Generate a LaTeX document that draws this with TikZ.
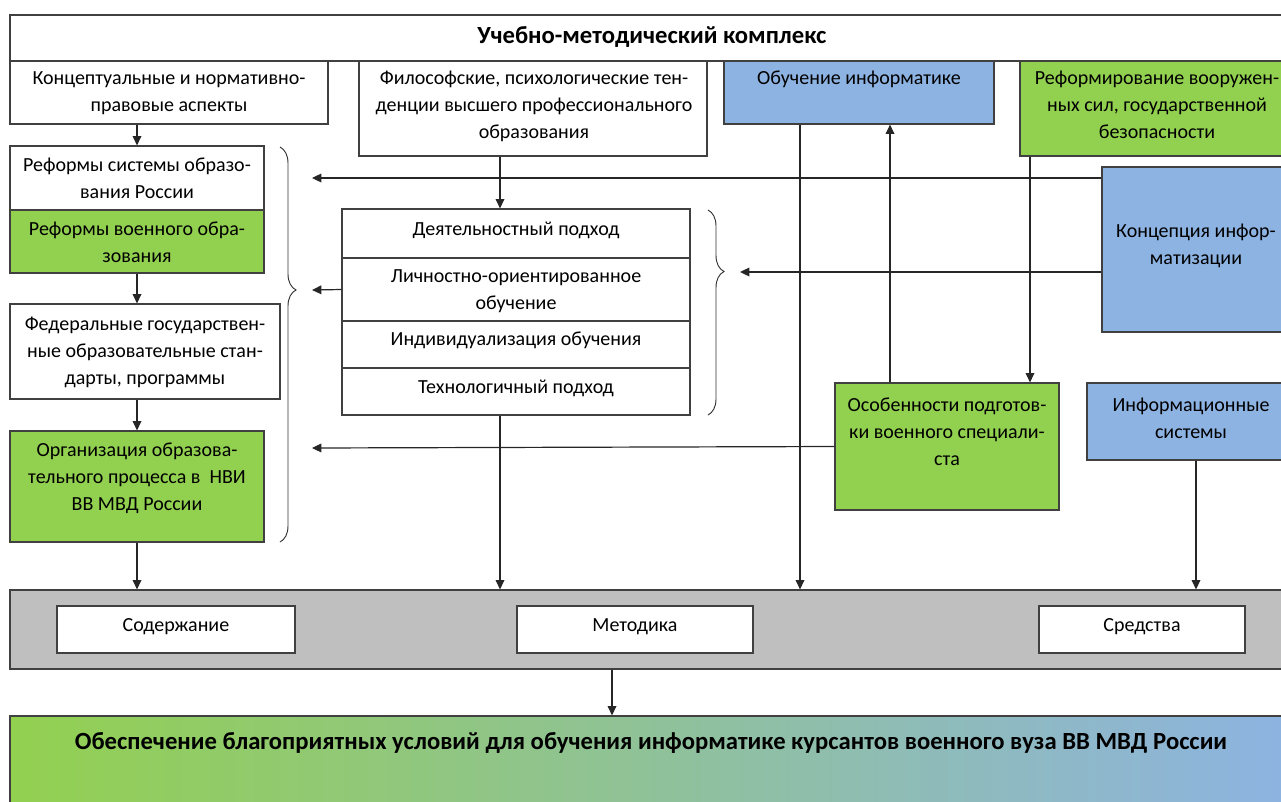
\documentclass[tikz,border=0pt]{standalone}
\usepackage{fontspec}
\setmainfont{Carlito}
\usetikzlibrary{arrows.meta,decorations.pathreplacing,fit,calc}
\definecolor{gr}{RGB}{146,208,80}
\definecolor{bl}{RGB}{141,179,226}
\definecolor{gy}{RGB}{191,191,191}
\definecolor{bd}{RGB}{64,64,64}
\begin{document}
\begin{tikzpicture}[x=0.75pt,y=-0.75pt,
  box/.style={draw=bd,line width=0.9pt,inner sep=0pt},
  txt/.style={anchor=base,align=center,inner sep=0pt,font=\fontsize{15pt}{20.25pt}\selectfont},
  ttl/.style={anchor=base,align=center,inner sep=0pt,font=\fontsize{18.5pt}{22pt}\selectfont\bfseries},
  arr/.style={draw=black!85,line width=0.9pt,-{Triangle[length=7pt,width=6.5pt]}},
  brc/.style={draw=black!80,line width=0.7pt,decorate}]
\useasboundingbox (0,0) rectangle (1281,801);
\clip (0,0) rectangle (1281,801);
% column coordinates
\coordinate (c500) at (500,0);
\coordinate (c800) at (800,0);
\coordinate (c890) at (890,0);
\coordinate (c1030) at (1030,0);
\coordinate (c1196) at (1196,0);
\coordinate (c612) at (612,0);
% top title
\node[box,fill=white,fit={(10,15) (1295,61)}] (top) {};
\node[ttl] (top-t) at (652,43) {Учебно-методический комплекс};
% row 1
\node[box,fill=white,fit={(10,61) (328,124)}] (kon) {};
\node[txt] (kon-t) at (169,111) {Концептуальные и нормативно-\\правовые аспекты};
\node[box,fill=white,fit={(359,61) (707,156)}] (fil) {};
\node[txt] (fil-t) at (534,138) {Философские, психологические тен-\\денции высшего профессионального\\образования};
\node[box,fill=bl,fit={(724,61) (994,124)}] (obu) {};
\node[txt] (obu-t) at (859,84) {Обучение информатике};
\node[box,fill=gr,fit={(1020,61) (1295,156)}] (ref) {};
\node[txt] (ref-t) at (1157,138) {Реформирование вооружен-\\ных сил, государственной\\безопасности};
% left column
\node[box,fill=white,fit={(10,146) (264,210)}] (rso) {};
\node[txt] (rso-t) at (137,198) {Реформы системы образо-\\вания России};
\node[box,fill=gr,fit={(10,210) (264,273)}] (rvo) {};
\node[txt] (rvo-t) at (137,262) {Реформы военного обра-\\зования};
\node[box,fill=white,fit={(10,304) (280,399)}] (fed) {};
\node[txt] (fed-t) at (145,384) {Федеральные государствен-\\ные образовательные стан-\\дарты, программы};
\node[box,fill=gr,fit={(10,431) (264,542)}] (org) {};
\node[txt] (org-t) at (137,510) {Организация образова-\\тельного процесса в\ \ НВИ\\ВВ МВД России};
% middle stack
\node[box,fill=white,fit={(342,209) (690,258)}] (dey) {};
\node[txt] (dey-t) at (516,235) {Деятельностный подход};
\node[box,fill=white,fit={(342,258) (690,321)}] (lic) {};
\node[txt] (lic-t) at (516,309) {Личностно-ориентированное\\обучение};
\node[box,fill=white,fit={(342,321) (690,368)}] (ind) {};
\node[txt] (ind-t) at (516,345) {Индивидуализация обучения};
\node[box,fill=white,fit={(342,368) (690,415)}] (tec) {};
\node[txt] (tec-t) at (516,393) {Технологичный подход};
% right side
\node[box,fill=bl,fit={(1102,167) (1295,332)}] (kin) {};
\node[txt] (kin-t) at (1196,264) {Концепция инфор-\\матизации};
\node[box,fill=gr,fit={(835,383) (1059,510)}] (osb) {};
\node[txt] (osb-t) at (947,465) {Особенности подготов-\\ки военного специали-\\ста};
\node[box,fill=bl,fit={(1087,383) (1300,460)}] (ins) {};
\node[txt] (ins-t) at (1191,438) {Информационные\\системы};
% gray band
\node[box,fill=gy,fit={(10,590) (1295,669)}] (gray) {};
\node[box,fill=white,fit={(57,606) (295,653)}] (sod) {};
\node[txt] (sod-t) at (176,631) {Содержание};
\node[box,fill=white,fit={(517,606) (753,653)}] (met) {};
\node[txt] (met-t) at (635,631) {Методика};
\node[box,fill=white,fit={(1039,606) (1245,653)}] (sre) {};
\node[txt] (sre-t) at (1142,631) {Средства};
% bottom
\node[box,left color=gr,right color=bl,fit={(10,716) (1295,810)}] (fin) {};
\node[ttl] (fin-t) at (651,749) {Обеспечение благоприятных условий для обучения информатике курсантов военного вуза ВВ МВД России};
% braces
\coordinate (b1a) at (280,147);
\coordinate (b1b) at (280,542);
\draw[brc,decoration={brace,amplitude=12pt,aspect=0.362}] (b1a) -- (b1b);
\coordinate (b2a) at (708,210);
\coordinate (b2b) at (708,415);
\draw[brc,decoration={brace,amplitude=12pt,aspect=0.30}] (b2a) -- (b2b);
\coordinate (t178) at (312,178);
\coordinate (t290) at (312,290);
\coordinate (t448) at (312,448);
\coordinate (t272) at (740,272);
% connectors
\draw[arr] (rso.north |- kon.south) -- (rso.north);
\draw[arr] (rvo.south) -- (rvo.south |- fed.north);
\draw[arr] (org.north |- fed.south) -- (org.north);
\draw[arr] (org.south) -- (org.south |- gray.north);
\draw[arr] (fil.south -| c500) -- (dey.north -| c500);
\draw[arr] (tec.south -| c500) -- (gray.north -| c500);
\draw[arr] (obu.south -| c800) -- (gray.north -| c800);
\draw[arr] (osb.north -| c890) -- (obu.south -| c890);
\draw[arr] (ref.south -| c1030) -- (osb.north -| c1030);
\draw[arr] (ins.south -| c1196) -- (gray.north -| c1196);
\draw[arr] (gray.south -| c612) -- (fin.north -| c612);
\draw[arr] (kin.west |- t178) -- (t178);
\draw[arr] (lic.west) -- (t290);
\draw[arr] (osb.west) -- (t448);
\draw[arr] (kin.west |- t272) -- (t272);
\end{tikzpicture}
\end{document}
